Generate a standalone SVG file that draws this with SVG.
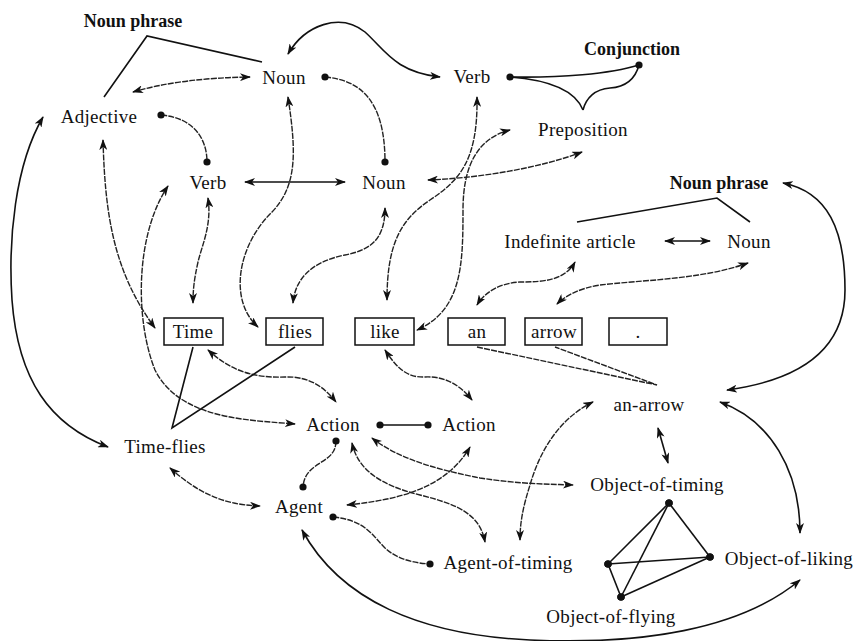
<svg xmlns="http://www.w3.org/2000/svg" width="858" height="641" viewBox="0 0 858 641">
<style>
text{font-family:"Liberation Serif","Times New Roman",serif;font-size:19px;fill:#111;text-anchor:middle;letter-spacing:0.3px}
.b{font-weight:bold;font-size:18px;letter-spacing:0}
.box{fill:#fff;stroke:#111;stroke-width:1.5}
path,line{fill:none;stroke:#111}
.s{stroke-width:1.6}
.d{stroke-width:1.4;stroke:#222;stroke-dasharray:6 1.2}
.a2{marker-start:url(#ah);marker-end:url(#ah)}
.ae{marker-end:url(#ah)}
.dd{marker-start:url(#dot);marker-end:url(#dot)}
</style>
<defs>
<marker id="ah" viewBox="0 0 11 8" refX="10" refY="4" markerWidth="11" markerHeight="8" markerUnits="userSpaceOnUse" orient="auto-start-reverse"><path d="M0,0 L11,4 L0,8 L3,4 z" style="fill:#111;stroke:none"/></marker>
<marker id="dot" viewBox="-4 -4 8 8" refX="0" refY="0" markerWidth="8" markerHeight="8" markerUnits="userSpaceOnUse"><circle r="3.6" style="fill:#111;stroke:none"/></marker>
</defs>
<rect width="858" height="641" fill="#fff"/>
<g id="connectors">
<path class="s" d="M104,97 L147,36 L262,62"/>
<path class="d a2" d="M133,92 Q180,78 250,77"/>
<path class="d dd" d="M161,115 C195,118 207,140 207,162"/>
<path class="s a2" d="M245,182 L345,182"/>
<path class="d dd" d="M325,77 C360,80 385,100 385,162"/>
<path class="s a2" d="M288,54 C305,25 340,12 365,32 C385,50 395,72 440,77"/>
<path class="s dd" d="M510,77 C560,78 610,74 639,65"/>
<path class="s" d="M510,77 C550,80 575,90 583,110"/>
<path class="s" d="M639,65 C635,80 625,87 610,88 C595,89 586,98 583,110"/>
<path class="d a2" d="M428,180 C480,178 540,168 582,152"/>
<path class="d a2" d="M477,97 C478,160 460,180 430,200 C400,220 387,245 387,300"/>
<path class="d a2" d="M510,130 C478,138 463,165 463,210 C463,265 462,310 417,330"/>
<path class="d a2" d="M385,208 C385,240 370,250 345,255 C310,262 295,280 293,303"/>
<path class="d a2" d="M288,97 C296,150 298,185 272,212 C238,245 228,300 258,327"/>
<path class="d a2" d="M208,198 C212,225 202,245 198,262 C194,280 193,290 193,303"/>
<path class="d a2" d="M103,140 C105,210 112,270 155,328"/>
<path class="d a2" d="M168,186 C135,235 135,320 155,370 C180,420 250,420 295,424"/>
<path class="d a2" d="M208,350 C232,372 255,378 285,377 C310,376 325,388 336,402"/>
<path class="s" d="M193,347 L172,428 L295,347"/>
<path class="s a2" d="M43,117 C15,165 8,240 12,300 C18,380 50,425 108,447"/>
<path class="d a2" d="M170,468 C195,490 220,505 260,506"/>
<path class="d dd" d="M336,441 C336,465 305,460 303,487"/>
<path class="s dd" d="M380,425 L428,425"/>
<path class="d a2" d="M385,350 C395,365 405,378 425,377 C445,376 460,385 472,400"/>
<path class="d a2" d="M347,505 C395,500 445,490 470,447"/>
<path class="d a2" d="M372,438 C400,460 440,470 480,478 C520,484 545,484 573,485"/>
<path class="d a2" d="M352,443 C358,470 380,485 420,495 C460,505 480,515 485,542"/>
<path class="d dd" d="M333,517 C365,520 372,535 385,548 C398,560 415,563 430,564"/>
<path class="d a2" d="M593,402 C560,418 540,450 530,485 C522,510 520,525 520,540"/>
<path class="s a2" d="M658,428 L668,463"/>
<path class="s a2" d="M720,402 C770,420 800,470 800,533"/>
<path class="s a2" d="M302,530 C340,600 420,635 530,640 C640,645 740,630 800,580"/>
<path class="s a2" d="M783,183 C828,192 845,230 845,290 C845,350 800,380 727,390"/>
<path class="s" d="M577,222 L717,198 L750,222"/>
<path class="s a2" d="M665,241 L710,241"/>
<path class="d a2" d="M575,262 C565,280 545,282 520,282 C500,283 485,292 477,305"/>
<path class="d a2" d="M748,263 C700,280 640,280 600,285 C580,288 565,296 557,304"/>
<path class="d" d="M477,347 L657,385 L555,347"/>
<path class="s dd" d="M669,503 L608,564"/>
<path class="s dd" d="M669,503 L621,597"/>
<path class="s dd" d="M669,503 L710,557"/>
<path class="s dd" d="M608,564 L710,557"/>
<path class="s dd" d="M608,564 L621,597"/>
<path class="s dd" d="M621,597 L710,557"/>
</g>
<g id="np-left"><text class="b" x="133" y="27">Noun phrase</text></g>
<g id="noun-top"><text x="284" y="84">Noun</text></g>
<g id="adjective"><text x="99" y="123">Adjective</text></g>
<g id="verb-left"><text x="208" y="189">Verb</text></g>
<g id="noun-mid"><text x="384" y="189">Noun</text></g>
<g id="verb-top"><text x="472" y="83">Verb</text></g>
<g id="conjunction"><text class="b" x="632" y="55">Conjunction</text></g>
<g id="preposition"><text x="583" y="136">Preposition</text></g>
<g id="np-right"><text class="b" x="719" y="189">Noun phrase</text></g>
<g id="indef-article"><text x="570" y="248">Indefinite article</text></g>
<g id="noun-right"><text x="749" y="248">Noun</text></g>
<g id="w-time"><rect class="box" x="164" y="318" width="59" height="27"/><text x="193" y="338">Time</text></g>
<g id="w-flies"><rect class="box" x="266" y="318" width="57" height="27"/><text x="295" y="338">flies</text></g>
<g id="w-like"><rect class="box" x="355" y="318" width="59" height="27"/><text x="385" y="338">like</text></g>
<g id="w-an"><rect class="box" x="448" y="318" width="57" height="27"/><text x="477" y="338">an</text></g>
<g id="w-arrow"><rect class="box" x="525" y="318" width="57" height="27"/><text x="554" y="338">arrow</text></g>
<g id="w-dot"><rect class="box" x="609" y="318" width="58" height="27"/><text x="638" y="338">.</text></g>
<g id="an-arrow"><text x="649" y="411">an-arrow</text></g>
<g id="action-left"><text x="333" y="431">Action</text></g>
<g id="action-right"><text x="469" y="431">Action</text></g>
<g id="time-flies"><text x="165" y="453">Time-flies</text></g>
<g id="agent"><text x="299" y="513">Agent</text></g>
<g id="obj-timing"><text x="657" y="491">Object-of-timing</text></g>
<g id="agent-timing"><text x="508" y="569">Agent-of-timing</text></g>
<g id="obj-liking"><text x="789" y="565">Object-of-liking</text></g>
<g id="obj-flying"><text x="611" y="623">Object-of-flying</text></g>
</svg>
